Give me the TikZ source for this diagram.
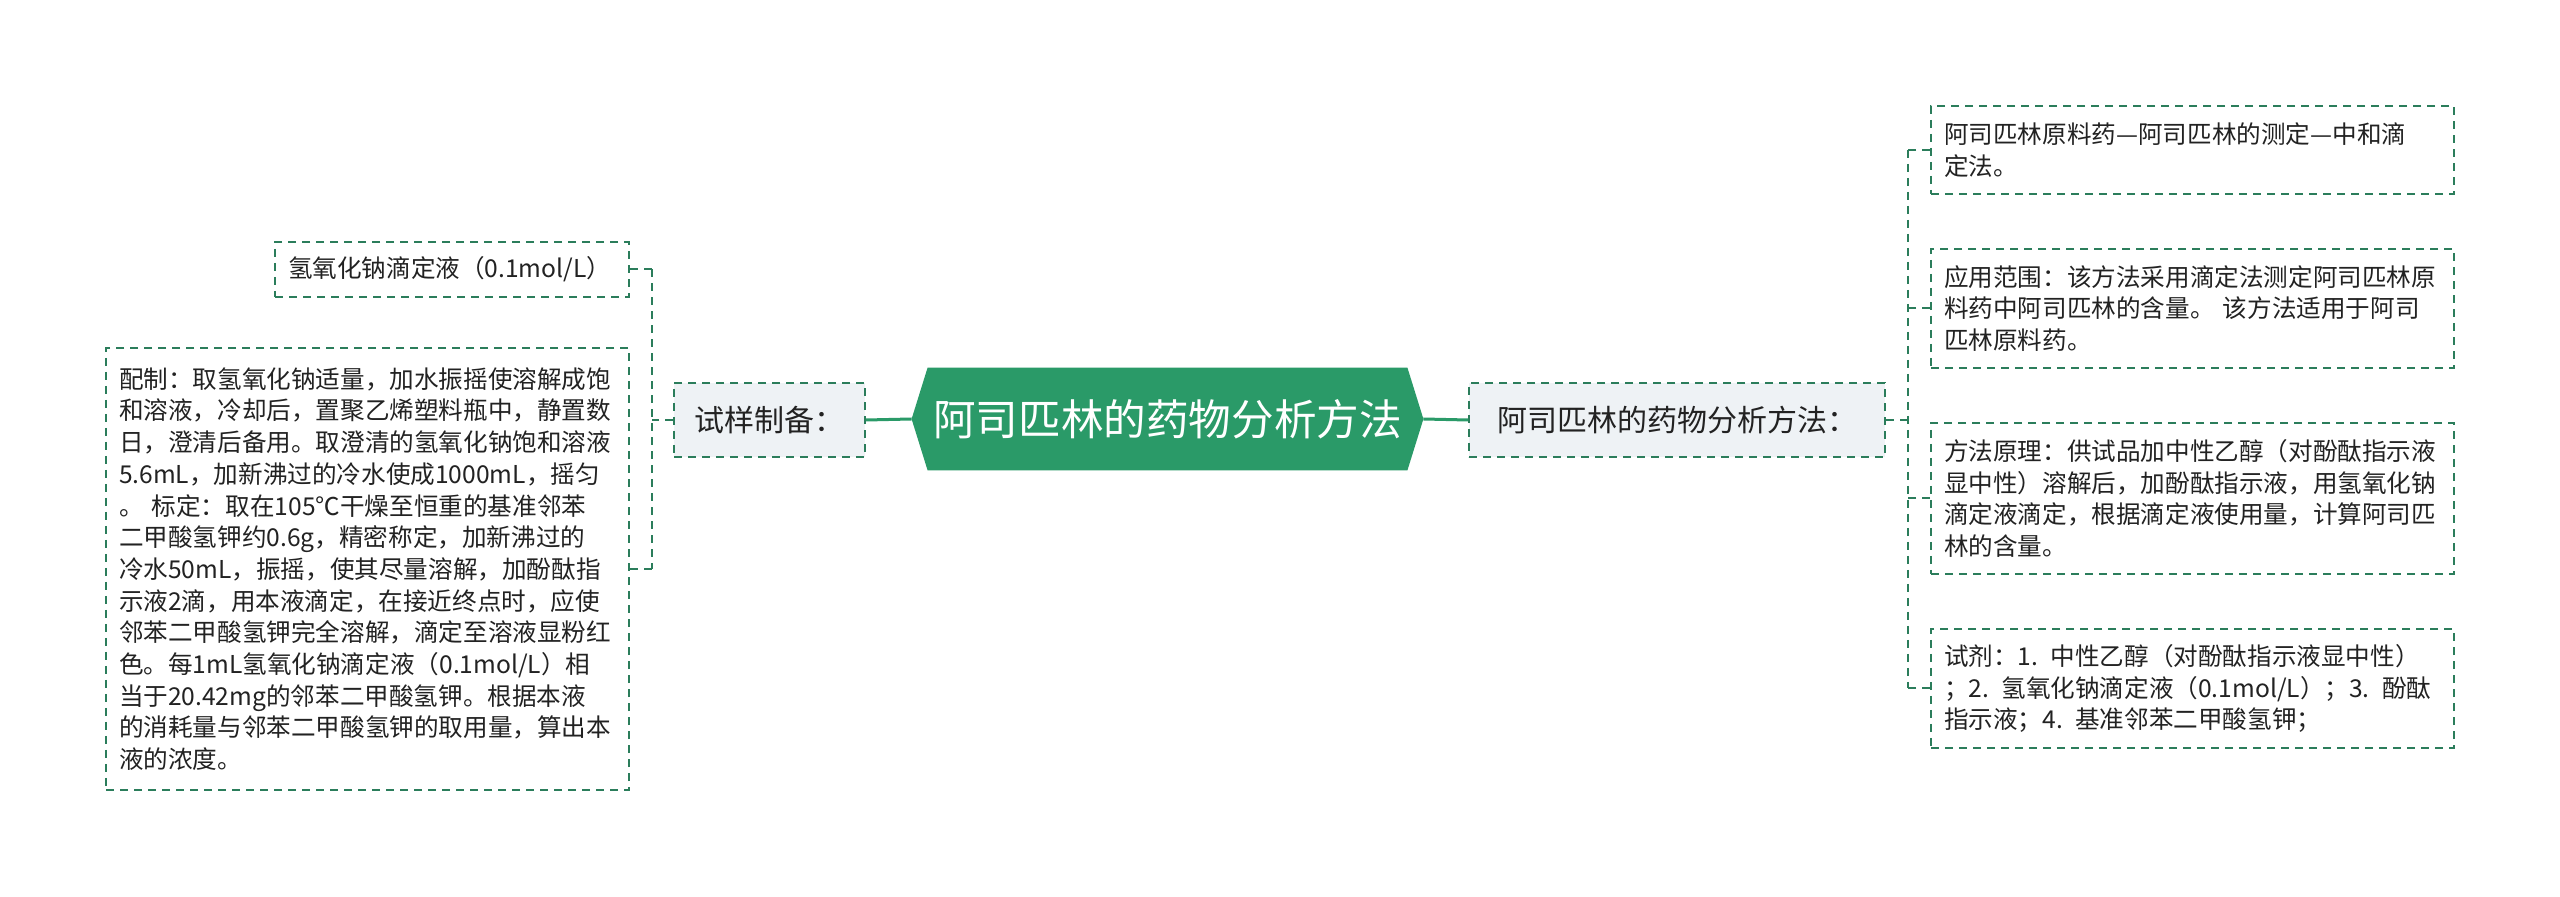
\documentclass[tikz,border=0pt]{standalone}
\usepackage{fontspec}
\setmainfont{Noto Sans CJK SC}
\usetikzlibrary{backgrounds,calc}
\definecolor{hexgreen}{HTML}{2A9A68}
\definecolor{dashgreen}{HTML}{2B7D5B}
\definecolor{boxfill}{HTML}{EEF2F5}
\definecolor{txt}{HTML}{222222}
\tikzset{
  leaf/.style={draw=dashgreen, line width=1pt, dash pattern=on 4pt off 3pt, fill=white, text=txt,
    font=\fontsize{12.3pt}{15.85pt}\selectfont, align=left, inner xsep=6.5pt, inner ysep=0pt, anchor=center},
  mid/.style={draw=dashgreen, line width=1pt, dash pattern=on 4pt off 3pt, fill=boxfill, text=txt,
    font=\fontsize{15pt}{18pt}\selectfont, inner sep=0pt, align=center},
  link/.style={draw=dashgreen, line width=1pt, dash pattern=on 4pt off 3pt},
  trunk/.style={draw=hexgreen, line width=1.5pt},
}
\begin{document}
\begin{tikzpicture}[x=0.5pt,y=-0.5pt]
\useasboundingbox (0,0) rectangle (2560,897);
% central node
\node[font=\fontsize{21.3pt}{25pt}\selectfont, text=white, minimum width=255.5pt, minimum height=51pt, inner sep=0pt] (c) at (1167.5,419) {阿司匹林的药物分析方法};
\begin{scope}[on background layer]
\fill[white] (0,0) rectangle (2560,897);
\fill[hexgreen] (c.west) -- ([xshift=8pt]c.north west) -- ([xshift=-8pt]c.north east) -- (c.east) -- ([xshift=-8pt]c.south east) -- ([xshift=8pt]c.south west) -- cycle;
\end{scope}
% second level
\node[mid, minimum width=95.5pt, minimum height=37pt] (Lnode) at (769.5,420) {试样制备：};
\node[mid, minimum width=208pt, minimum height=37pt] (Rnode) at (1677,420) {阿司匹林的药物分析方法：};
% left leaves
\node[leaf, text width=164pt, minimum height=27.5pt] (L1) at (452,269.5) {氢氧化钠滴定液（0.1mol/L）};
\node[leaf, text width=248.5pt, minimum height=221pt] (L2) at (367.5,569) {配制：取氢氧化钠适量，加水振摇使溶解成饱\\和溶液，冷却后，置聚乙烯塑料瓶中，静置数\\日，澄清后备用。取澄清的氢氧化钠饱和溶液\\5.6mL，加新沸过的冷水使成1000mL，摇匀\\。 标定：取在105℃干燥至恒重的基准邻苯\\二甲酸氢钾约0.6g，精密称定，加新沸过的\\冷水50mL，振摇，使其尽量溶解，加酚酞指\\示液2滴，用本液滴定，在接近终点时，应使\\邻苯二甲酸氢钾完全溶解，滴定至溶液显粉红\\色。每1mL氢氧化钠滴定液（0.1mol/L）相\\当于20.42mg的邻苯二甲酸氢钾。根据本液\\的消耗量与邻苯二甲酸氢钾的取用量，算出本\\液的浓度。};
% right leaves
\node[leaf, text width=248.5pt, minimum height=44pt] (R1) at (2192.5,150) {阿司匹林原料药—阿司匹林的测定—中和滴\\定法。};
\node[leaf, text width=248.5pt, minimum height=59.5pt] (R2) at (2192.5,308.5) {应用范围：该方法采用滴定法测定阿司匹林原\\料药中阿司匹林的含量。 该方法适用于阿司\\匹林原料药。};
\node[leaf, text width=248.5pt, minimum height=75.5pt] (R3) at (2192.5,498.5) {方法原理：供试品加中性乙醇（对酚酞指示液\\显中性）溶解后，加酚酞指示液，用氢氧化钠\\滴定液滴定，根据滴定液使用量，计算阿司匹\\林的含量。};
\node[leaf, text width=248.5pt, minimum height=59.5pt] (R4) at (2192.5,688.5) {试剂：1. 中性乙醇（对酚酞指示液显中性）\\；2. 氢氧化钠滴定液（0.1mol/L）；3. 酚酞\\指示液；4. 基准邻苯二甲酸氢钾；};
% connectors
\draw[trunk] (Lnode.east) -- (c.west);
\draw[trunk] (c.east) -- (Rnode.west);
\coordinate (lj) at (652,420);
\coordinate (rj) at (1908,420);
\coordinate (ltop) at (lj |- L1.east);
\coordinate (lbot) at (lj |- L2.east);
\coordinate (rtop) at (rj |- R1.west);
\coordinate (rbot) at (rj |- R4.west);
\draw[link] (Lnode.west) -- (lj);
\draw[link] (L1.east) -- (ltop);
\draw[link] (L2.east) -- (lbot);
\draw[link] (ltop) -- (lbot);
\draw[link] (Rnode.east) -- (rj);
\draw[link] (rtop) -- (rbot);
\draw[link] (R1.west) -- (rtop);
\draw[link] (R2.west) -- (rj |- R2.west);
\draw[link] (R3.west) -- (rj |- R3.west);
\draw[link] (R4.west) -- (rbot);
\end{tikzpicture}
\end{document}
